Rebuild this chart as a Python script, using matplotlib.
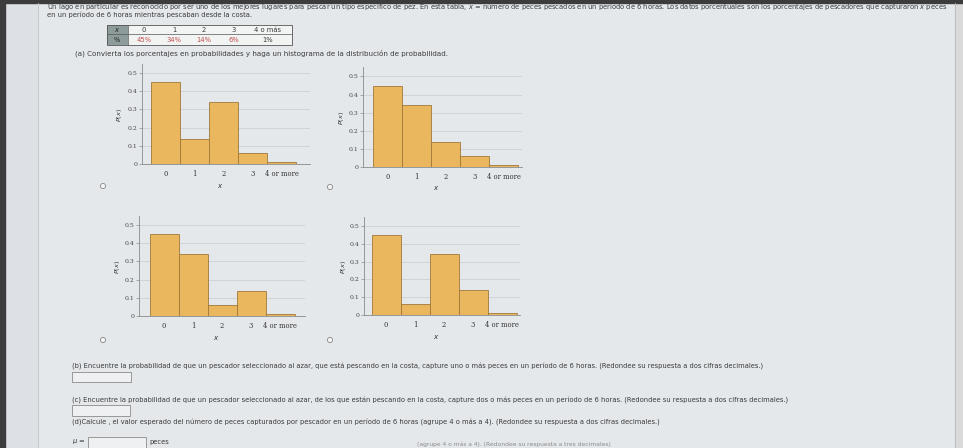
import numpy as np
import matplotlib.pyplot as plt
from matplotlib.patches import Rectangle, Circle

W, H = 963, 448

cats = ['0', '1', '2', '3', '4 or more']
table_x = ['0', '1', '2', '3', '4 o más']
table_pct = ['45%', '34%', '14%', '6%', '1%']

# the four answer choices
p1 = [0.45, 0.14, 0.34, 0.06, 0.01]
p2 = [0.45, 0.34, 0.14, 0.06, 0.01]
p3 = [0.45, 0.34, 0.06, 0.14, 0.01]
p4 = [0.45, 0.06, 0.34, 0.14, 0.01]

bg_col = '#e5e8eb'
txt_col = '#3a3a3a'
bar_col = '#eab65e'
edge_col = '#a0783a'

fig = plt.figure(figsize=(W / 100, H / 100), dpi=100)
fig.patch.set_facecolor(bg_col)

bg = fig.add_axes([0, 0, 1, 1])
bg.set_xlim(0, W)
bg.set_ylim(H, 0)
bg.axis('off')

# screen edges from the photo
bg.add_patch(Rectangle((0, 0), 5, H, color='#3c3c3c', zorder=1))
bg.add_patch(Rectangle((0, 0), W, 3, color='#3c3c3c', zorder=1))
bg.add_patch(Rectangle((5, 3), 33, H, color='#dde0e4', zorder=0))
bg.add_patch(Rectangle((955, 3), 8, H, color='#dadada', zorder=0))
bg.plot([38, 38], [3, H], color='#c4c6c9', lw=0.6)
bg.plot([955, 955], [3, H], color='#b8b8b8', lw=0.6)

fs = 4.85
bg.text(47, 7, 'Un lago en particular es reconocido por ser uno de los mejores lugares para pescar un tipo específico de pez. '
        'En esta tabla, $x$ = número de peces pescados en un período de 6 horas. Los datos porcentuales son los '
        'porcentajes de pescadores que capturaron $x$ peces', fontsize=fs, color=txt_col, va='center')
bg.text(47, 15, 'en un período de 6 horas mientras pescaban desde la costa.', fontsize=fs, color=txt_col, va='center')

# table
tl, tr, tt, tm, tb = 107, 292, 25, 34, 45
bg.add_patch(Rectangle((tl, tt), 21, tb - tt, facecolor='#8d9c9a', edgecolor='none'))
bg.add_patch(Rectangle((128, tt), tr - 128, tb - tt, facecolor='#f2f3f3', edgecolor='none'))
bg.add_patch(Rectangle((tl, tt), tr - tl, tb - tt, facecolor='none', edgecolor='#555555', lw=0.6))
bg.plot([tl, tr], [tm, tm], color='#555555', lw=0.5)
bg.plot([128, 128], [tt, tb], color='#555555', lw=0.5)
bg.text(117, 29.5, '$x$', fontsize=fs, color='#222222', ha='center', va='center')
bg.text(117, 39.5, '%', fontsize=fs, color='#222222', ha='center', va='center')
col_x = [144, 174, 204, 234, 268]
for cx, lab, pct in zip(col_x, table_x, table_pct):
    bg.text(cx, 29.5, lab, fontsize=fs, color=txt_col, ha='center', va='center')
    c = txt_col if pct == '1%' else '#c0504d'
    bg.text(cx, 39.5, pct, fontsize=fs, color=c, ha='center', va='center')

bg.text(75, 53, '(a) Convierta los porcentajes en probabilidades y haga un histograma de la distribución de probabilidad.',
        fontsize=5.1, color=txt_col, va='center')


def hist(vals, left, right, zero_y, px_unit, x0, xlab_y, ylab_x):
    # axes box in pixels, value 0 centred at x0
    top = zero_y - 0.55 * px_unit
    ax = fig.add_axes([left / W, 1 - zero_y / H, (right - left) / W, (zero_y - top) / H])
    xs = np.arange(len(vals))
    ax.bar(xs, vals, width=1.0, color=bar_col, edgecolor=edge_col, linewidth=0.6, zorder=3)
    ax.set_xlim((left - x0) / 29.0, (right - x0) / 29.0)
    ax.set_ylim(0, 0.55)
    ax.set_facecolor('none')
    ax.set_yticks([0, 0.1, 0.2, 0.3, 0.4, 0.5])
    ax.set_yticklabels(['0', '0.1', '0.2', '0.3', '0.4', '0.5'], family='DejaVu Serif', fontsize=4.4, color='#444444')
    ax.set_xticks(xs)
    ax.set_xticklabels(cats, family='DejaVu Serif', fontsize=4.9, color='#333333')
    ax.grid(axis='y', color='#c9cbcd', lw=0.5, zorder=0)
    for s in ['top', 'right']:
        ax.spines[s].set_visible(False)
    for s in ['left', 'bottom']:
        ax.spines[s].set_color('#8a8a8a')
        ax.spines[s].set_linewidth(0.6)
    ax.tick_params(axis='x', length=0, pad=4)
    ax.tick_params(axis='y', length=2, width=0.5, color='#8a8a8a', pad=1.5)
    bg.text((left + right) / 2 - 6, xlab_y, '$x$', fontsize=5, color='#333333', ha='center', va='center')
    bg.text(ylab_x, zero_y - 0.27 * px_unit, '$P(x)$', fontsize=4.6, color='#333333', rotation=90,
            ha='center', va='center')
    return ax


# scale all axes to 29 px per unit on x
hist(p1, 142, 310, 164, 182, 165.5, 186, 119)
hist(p2, 363, 522, 167, 181, 387.5, 188, 341)
hist(p3, 139, 305, 316, 182, 164, 338, 118)
hist(p4, 364, 520, 315, 178, 386, 337, 343)

for cx, cy in [(103, 186), (330, 187), (103, 340), (330, 340)]:
    bg.add_patch(Circle((cx, cy), 2.6, facecolor='#f4f4f4', edgecolor='#888888', lw=0.6))

bg.text(72, 366, '(b) Encuentre la probabilidad de que un pescador seleccionado al azar, que está pescando en la costa, '
        'capture uno o más peces en un período de 6 horas. (Redondee su respuesta a dos cifras decimales.)',
        fontsize=fs, color=txt_col, va='center')
bg.add_patch(Rectangle((72, 372), 59, 10, facecolor='#eef0f2', edgecolor='#8a8a8a', lw=0.6))

bg.text(72, 401, '(c) Encuentre la probabilidad de que un pescador seleccionado al azar, de los que están pescando en la costa, '
        'capture dos o más peces en un período de 6 horas. (Redondee su respuesta a dos cifras decimales.)',
        fontsize=fs, color=txt_col, va='center')
bg.add_patch(Rectangle((72, 405), 58, 11, facecolor='#eef0f2', edgecolor='#8a8a8a', lw=0.6))

bg.text(72, 422, '(d)Calcule , el valor esperado del número de peces capturados por pescador en un período de 6 horas '
        '(agrupe 4 o más a 4). (Redondee su respuesta a dos cifras decimales.)',
        fontsize=fs, color=txt_col, va='center')
bg.text(72, 442, '$\\mu$ =', fontsize=fs, color=txt_col, va='center')
bg.add_patch(Rectangle((88, 437), 58, 14, facecolor='#eef0f2', edgecolor='#8a8a8a', lw=0.6))
bg.text(149, 442, 'peces', fontsize=fs, color=txt_col, va='center')
bg.text(611, 444, '(agrupe 4 o más a 4). (Redondee su respuesta a tres decimales)', fontsize=4.3,
        color='#8a8a8a', ha='right', va='center')

fig.savefig('out.png', dpi=100, facecolor=fig.get_facecolor())
